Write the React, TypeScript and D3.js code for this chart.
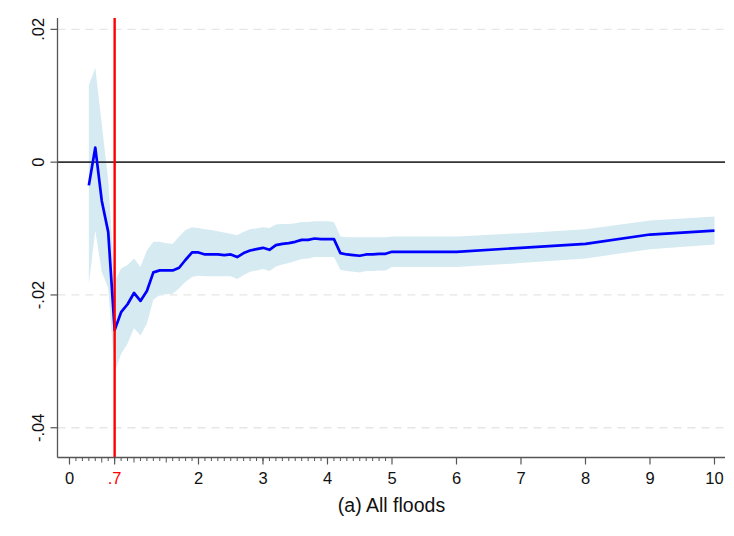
import React from "react";
import * as d3 from "d3";

const xs = [0.3,0.4,0.5,0.6,0.7,0.8,0.9,1.0,1.1,1.2,1.3,1.4,1.5,1.6,1.7,1.8,1.9,2.0,2.1,2.2,2.3,2.4,2.5,2.6,2.7,2.8,2.9,3.0,3.1,3.2,3.3,3.4,3.5,3.6,3.7,3.8,3.9,4.0,4.1,4.2,4.3,4.4,4.5,4.6,4.7,4.8,4.9,5,6,7,8,9,10];
const est = [-0.0035,0.0022,-0.0058,-0.0105,-0.0253,-0.0226,-0.0214,-0.0197,-0.0209,-0.0194,-0.0166,-0.0163,-0.0163,-0.0163,-0.0159,-0.0147,-0.0136,-0.0136,-0.0139,-0.0139,-0.0139,-0.0140,-0.0139,-0.0143,-0.0137,-0.0133,-0.0131,-0.0129,-0.0132,-0.0125,-0.0123,-0.0122,-0.0120,-0.0117,-0.0117,-0.0115,-0.0116,-0.0116,-0.0116,-0.0137,-0.0139,-0.0140,-0.0141,-0.0139,-0.0139,-0.0138,-0.0138,-0.0135,-0.0135,-0.0129,-0.0123,-0.0109,-0.0103];
const hi = [0.0116,0.0142,0.0057,-0.0027,-0.0180,-0.0160,-0.0155,-0.0145,-0.0158,-0.0133,-0.0120,-0.0120,-0.0122,-0.0123,-0.0112,-0.0102,-0.0098,-0.0099,-0.0101,-0.0102,-0.0104,-0.0106,-0.0108,-0.0110,-0.0105,-0.0101,-0.0100,-0.0098,-0.0099,-0.0094,-0.0093,-0.0093,-0.0092,-0.0090,-0.0090,-0.0089,-0.0089,-0.0089,-0.0090,-0.0112,-0.0113,-0.0113,-0.0113,-0.0113,-0.0113,-0.0113,-0.0113,-0.0112,-0.0112,-0.0107,-0.0101,-0.0088,-0.0082];
const lo = [-0.0183,-0.0103,-0.0165,-0.0190,-0.0316,-0.0289,-0.0273,-0.0250,-0.0261,-0.0243,-0.0207,-0.0200,-0.0199,-0.0198,-0.0190,-0.0180,-0.0173,-0.0171,-0.0172,-0.0172,-0.0172,-0.0172,-0.0172,-0.0176,-0.0170,-0.0165,-0.0163,-0.0161,-0.0164,-0.0157,-0.0154,-0.0152,-0.0149,-0.0146,-0.0145,-0.0143,-0.0143,-0.0143,-0.0143,-0.0162,-0.0164,-0.0165,-0.0166,-0.0164,-0.0164,-0.0163,-0.0163,-0.0158,-0.0158,-0.0152,-0.0145,-0.0131,-0.0124];

const xMajorTicks = [0, 0.7, 2, 3, 4, 5, 6, 7, 8, 9, 10];
const xMajorLabels = ["0", ".7", "2", "3", "4", "5", "6", "7", "8", "9", "10"];
const xMinorTicks = d3.range(1, 50).map((i) => i / 10);
const xMidTicks = [0.5, 1, 1.5];
const yTicks = [0.02, 0, -0.02, -0.04];
const yLabels = [".02", "0", "-.02", "-.04"];
const cutoff = 0.7;
const title = "(a) All floods";

export default function App() {
  const W = 734, H = 536;
  const left = 57.5, right = 725, top = 18, bottom = 457.5;
  const x = d3.scaleLinear().domain([-0.186, 10.163]).range([left, right]);
  const y = d3.scaleLinear().domain([-0.04448, 0.02171]).range([bottom, top]);
  const data = xs.map((v, i) => ({ x: v, e: est[i], h: hi[i], l: lo[i] }));
  const area = d3.area<any>().x((d) => x(d.x)).y0((d) => y(d.l)).y1((d) => y(d.h));
  const line = d3.line<any>().x((d) => x(d.x)).y((d) => y(d.e));
  const font = "'Liberation Sans', Arial, Helvetica, sans-serif";
  return (
    <svg width={W} height={H} style={{ position: "absolute", left: 0, top: 0, background: "#fff" }} fontFamily={font}>
      {yTicks.filter((t) => t !== 0).map((t) => (
        <line key={"g" + t} x1={left} x2={right} y1={y(t)} y2={y(t)} stroke="#e6e6e6" strokeWidth={1.3} strokeDasharray="8,6" />
      ))}
      <path d={area(data) || ""} fill="#d6eaf2" />
      <line x1={left} x2={right} y1={y(0)} y2={y(0)} stroke="#333" strokeWidth={1.6} />
      <path d={line(data) || ""} fill="none" stroke="#0000ff" strokeWidth={2.7} strokeLinejoin="round" />
      <line x1={x(cutoff)} x2={x(cutoff)} y1={top} y2={bottom} stroke="#ff0000" strokeWidth={2.4} />
      <line x1={left} x2={left} y1={top} y2={bottom} stroke="#555" strokeWidth={1.3} />
      {yTicks.map((t, i) => (
        <g key={"yt" + t}>
          <line x1={left - 7} x2={left} y1={y(t)} y2={y(t)} stroke="#555" strokeWidth={1.2} />
          <text transform={`translate(${44},${y(t)}) rotate(-90)`} textAnchor="middle" fontSize={16.5} fill="#111">{yLabels[i]}</text>
        </g>
      ))}
      <line x1={left} x2={right} y1={bottom} y2={bottom} stroke="#555" strokeWidth={1.3} />
      {xMinorTicks.map((t) => (
        <line key={"mn" + t} x1={x(t)} x2={x(t)} y1={bottom} y2={bottom + (xMidTicks.includes(t) ? 5 : 3.5)} stroke="#555" strokeWidth={1} />
      ))}
      {xMajorTicks.map((t, i) => (
        <g key={"xt" + t}>
          <line x1={x(t)} x2={x(t)} y1={bottom} y2={bottom + 7} stroke="#555" strokeWidth={1.2} />
          <text x={x(t)} y={484} textAnchor="middle" fontSize={16.5} fill={t === cutoff ? "#ff0000" : "#111"}>{xMajorLabels[i]}</text>
        </g>
      ))}
      <text x={391.5} y={512} textAnchor="middle" fontSize={19.5} fill="#111">{title}</text>
    </svg>
  );
}
